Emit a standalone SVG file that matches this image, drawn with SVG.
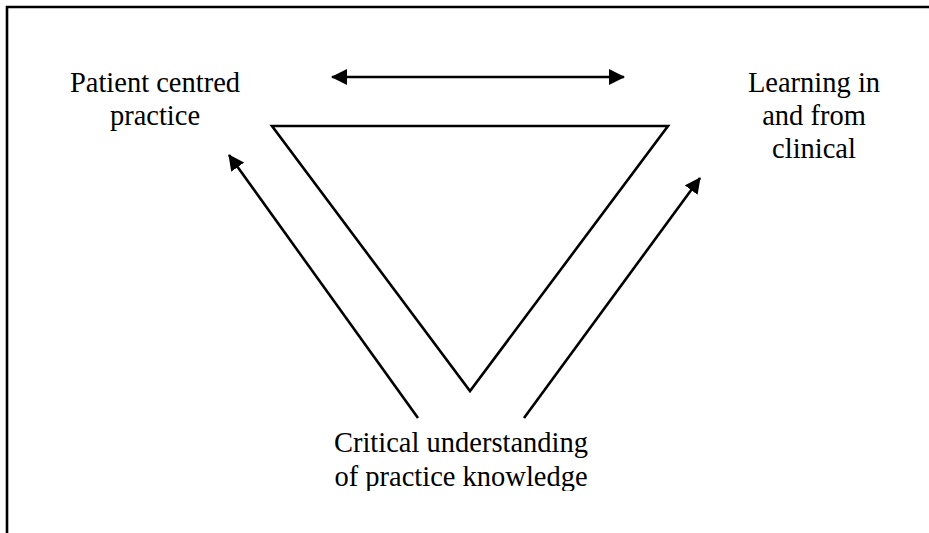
<svg xmlns="http://www.w3.org/2000/svg" width="929" height="533" viewBox="0 0 929 533">
<style>
.ln{stroke:#000;stroke-width:2.6;fill:none}
.tx{font-family:"Liberation Serif","Times New Roman",serif;font-size:28.5px;fill:#000;text-anchor:middle}
</style>
<defs>
<marker id="ah" viewBox="0 0 16 16" refX="15" refY="8" markerWidth="16" markerHeight="16" markerUnits="userSpaceOnUse" orient="auto-start-reverse">
<path d="M0,0 L16,8 L0,16 Z" fill="#000"/>
</marker>
<clipPath id="cb"><rect x="0" y="0" width="929" height="491"/></clipPath>
</defs>
<rect width="929" height="533" fill="#fff"/>
<g id="frame">
<path class="ln" d="M7,533 V7 H929"/>
</g>
<g id="triangle">
<path class="ln" d="M272,126 H668 L470,391 Z" stroke-linejoin="miter"/>
</g>
<g id="connectors">
<line class="ln" x1="332" y1="77" x2="624" y2="77" marker-start="url(#ah)" marker-end="url(#ah)"/>
<line class="ln" x1="418" y1="418" x2="229" y2="155" marker-end="url(#ah)"/>
<line class="ln" x1="524" y1="418" x2="700" y2="178" marker-end="url(#ah)"/>
</g>
<g id="patient">
<text class="tx" x="155" y="92">Patient centred</text>
<text class="tx" x="155" y="125">practice</text>
</g>
<g id="learning">
<text class="tx" x="814" y="92">Learning in</text>
<text class="tx" x="814" y="125">and from</text>
<text class="tx" x="814" y="158">clinical</text>
</g>
<g id="critical" clip-path="url(#cb)">
<text class="tx" x="461" y="452">Critical understanding</text>
<text class="tx" x="461" y="486">of practice knowledge</text>
</g>
</svg>
